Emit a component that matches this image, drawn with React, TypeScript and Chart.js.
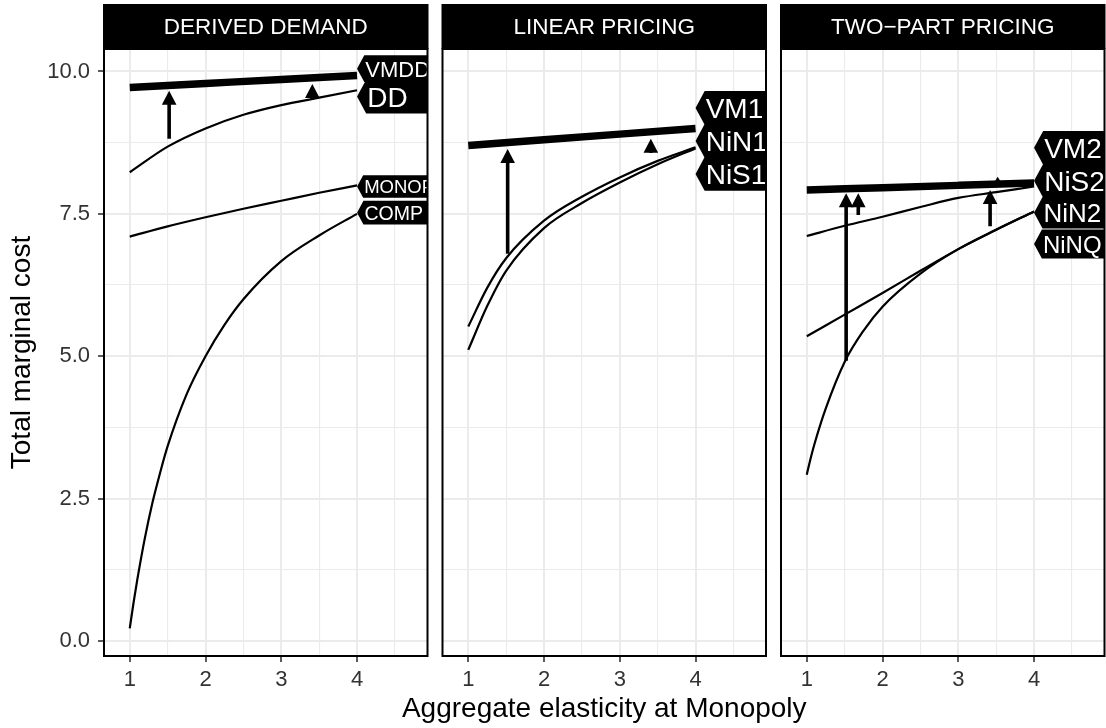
import React, { useEffect, useRef } from "react";
import { Chart, registerables } from "chart.js";

Chart.register(...registerables);

// ------------------------------------------------------------------ data
const facetTitles = ["DERIVED DEMAND", "LINEAR PRICING", "TWO\u2212PART PRICING"];
const xTitle = "Aggregate elasticity at Monopoly";
const yTitle = "Total marginal cost";
const xTickValues = [1, 2, 3, 4];
const xTickLabels = ["1", "2", "3", "4"];
const yTickValues = [0, 2.5, 5, 7.5, 10];
const yTickLabels = ["0.0", "2.5", "5.0", "7.5", "10.0"];

const xBase = [1, 1.5, 2, 2.5, 3, 3.5, 4];
const xStraight = [1, 2, 3, 4];

// DERIVED DEMAND
const vmddY = [9.72, 9.79, 9.86, 9.93];
const ddY = [8.23, 8.68, 9.0, 9.24, 9.41, 9.54, 9.67];
const monopY = [7.1, 7.28, 7.44, 7.59, 7.73, 7.87, 8.0];
const compX = [1, 1.05, 1.1, 1.2, 1.3, 1.4, 1.5, 1.75, 2, 2.25, 2.5, 3, 3.5, 4];
const compY = [0.22, 0.67, 1.08, 1.81, 2.43, 2.95, 3.42, 4.33, 5.0, 5.55, 6.0, 6.67, 7.12, 7.5];

// LINEAR PRICING
const vm1Y = [8.7, 8.8, 8.9, 9.0];
const linX = [1, 1.25, 1.5, 2, 2.5, 3, 3.5, 4];
const nin1Y = [5.52, 6.2, 6.72, 7.38, 7.8, 8.14, 8.43, 8.67];
const nis1Y = [5.11, 5.88, 6.5, 7.25, 7.69, 8.05, 8.37, 8.65];

// TWO-PART PRICING
const vm2Y = [7.92, 7.96, 8.0, 8.04];
const nis2Y = [7.11, 7.29, 7.45, 7.62, 7.78, 7.88, 7.98];
const nin2Y = [5.35, 5.73, 6.11, 6.5, 6.88, 7.22, 7.54];
const ninqX = [1, 1.05, 1.1, 1.25, 1.5, 1.75, 2, 2.5, 3, 3.5, 4];
const ninqY = [2.92, 3.2, 3.45, 4.08, 4.9, 5.45, 5.87, 6.45, 6.88, 7.22, 7.54];

// arrows (x, from, to) in data units
const arrowsDDx = [1.52, 3.41];
const arrowsDDfrom = [8.82, 9.5];
const arrowsDDto = [9.66, 9.78];
const arrowsLPx = [1.52, 3.41];
const arrowsLPfrom = [6.8, 8.57];
const arrowsLPto = [8.64, 8.82];
const arrowsTPx = [1.52, 1.68, 3.42, 3.52];
const arrowsTPfrom = [4.92, 7.48, 7.28, 8.03];
const arrowsTPto = [7.86, 7.86, 7.92, 8.15];

// direct labels: text and vertical position (data units), anchored at x = 4
const labelAnchorX = 4;
const labelsDD = ["VMDD", "DD", "MONOP", "COMP"];
const labelsDDy = [10.05, 9.56, 7.98, 7.52];
const labelsLP = ["VM1", "NiN1", "NiS1"];
const labelsLPy = [9.36, 8.78, 8.2];
const labelsTP = ["VM2", "NiS2", "NiN2", "NiNQ"];
const labelsTPy = [8.66, 8.08, 7.52, 6.97];

// ------------------------------------------------------------------ layout / style
const W = 1106;
const H = 728;
const FONT = "'Liberation Sans', Arial, Helvetica, sans-serif";
const X_MIN = 0.66;
const X_MAX = 4.93;
const Y_MIN = -0.265;
const Y_MAX = 10.395;
const PANEL_LEFT = [104, 442.5, 781];
const PANEL_W = 323.5;
const PANEL_TOP = 49;
const STRIP_TOP = 4;
const X_AXIS_H = 72;
const X_TITLE_Y = 709;
const TICK_FONT = 22;
const TITLE_FONT = 28;
const STRIP_FONT = 22.5;
const LABEL_SIZES = [
  [22, 28, 18.5, 19.5],
  [28, 28, 28],
  [28, 28, 26, 24],
];

type Series = { name: string; x: number[]; y: number[] };
type Panel = {
  title: string;
  series: Series[];
  ax: number[];
  afrom: number[];
  ato: number[];
  labels: string[];
  labelsY: number[];
};

const PANELS: Panel[] = [
  {
    title: facetTitles[0],
    series: [
      { name: "VMDD", x: xStraight, y: vmddY },
      { name: "DD", x: xBase, y: ddY },
      { name: "MONOP", x: xBase, y: monopY },
      { name: "COMP", x: compX, y: compY },
    ],
    ax: arrowsDDx,
    afrom: arrowsDDfrom,
    ato: arrowsDDto,
    labels: labelsDD,
    labelsY: labelsDDy,
  },
  {
    title: facetTitles[1],
    series: [
      { name: "VM1", x: xStraight, y: vm1Y },
      { name: "NiN1", x: linX, y: nin1Y },
      { name: "NiS1", x: linX, y: nis1Y },
    ],
    ax: arrowsLPx,
    afrom: arrowsLPfrom,
    ato: arrowsLPto,
    labels: labelsLP,
    labelsY: labelsLPy,
  },
  {
    title: facetTitles[2],
    series: [
      { name: "VM2", x: xStraight, y: vm2Y },
      { name: "NiS2", x: xBase, y: nis2Y },
      { name: "NiN2", x: xBase, y: nin2Y },
      { name: "NiNQ", x: ninqX, y: ninqY },
    ],
    ax: arrowsTPx,
    afrom: arrowsTPfrom,
    ato: arrowsTPto,
    labels: labelsTP,
    labelsY: labelsTPy,
  },
];

const near = (a: number, b: number) => Math.abs(a - b) < 1e-6;
const isMajorX = (v: number) => xTickValues.some((t) => near(t, v));
const isMajorY = (v: number) => yTickValues.some((t) => near(t, v));

function drawArrow(ctx: CanvasRenderingContext2D, x: number, y0: number, y1: number) {
  const len = Math.abs(y1 - y0);
  const dir = y1 < y0 ? -1 : 1;
  const headL = Math.min(14, len);
  const headW = 5.8 * (headL / 14) + 1.5;
  ctx.lineWidth = 3.6;
  ctx.lineCap = "butt";
  if (len > headL) {
    ctx.beginPath();
    ctx.moveTo(x, y0);
    ctx.lineTo(x, y1 - dir * headL * 0.7);
    ctx.stroke();
  }
  ctx.beginPath();
  ctx.moveTo(x, y1);
  ctx.lineTo(x - headW, y1 - dir * headL);
  ctx.lineTo(x + headW, y1 - dir * headL);
  ctx.closePath();
  ctx.fill();
}

function facetPlugin(p: Panel, idx: number) {
  return {
    id: "facet" + idx,
    afterDatasetsDraw(chart: any) {
      const ctx: CanvasRenderingContext2D = chart.ctx;
      const { left, right, top, bottom } = chart.chartArea;
      const xs = chart.scales.x;
      const ys = chart.scales.y;
      ctx.save();
      ctx.beginPath();
      ctx.rect(left, top, right - left, bottom - top);
      ctx.clip();
      ctx.fillStyle = "#000";
      ctx.strokeStyle = "#000";
      p.ax.forEach((xv, k) => {
        drawArrow(ctx, xs.getPixelForValue(xv), ys.getPixelForValue(p.afrom[k]), ys.getPixelForValue(p.ato[k]));
      });
      p.labels.forEach((t, k) => {
        const size = LABEL_SIZES[idx][k];
        const tip = xs.getPixelForValue(labelAnchorX);
        const cy = ys.getPixelForValue(p.labelsY[k]);
        const h = size * 1.17 + 1;
        const tw = h * 0.27;
        ctx.fillStyle = "#000";
        ctx.beginPath();
        ctx.moveTo(tip, cy);
        ctx.lineTo(tip + tw, cy - h / 2);
        ctx.lineTo(right + 20, cy - h / 2);
        ctx.lineTo(right + 20, cy + h / 2);
        ctx.lineTo(tip + tw, cy + h / 2);
        ctx.closePath();
        ctx.fill();
        ctx.fillStyle = "#fff";
        ctx.font = `${size}px ${FONT}`;
        ctx.textAlign = "left";
        ctx.textBaseline = "alphabetic";
        ctx.fillText(t, tip + tw + 1, cy + (size * 0.716) / 2);
      });
      ctx.restore();
      ctx.save();
      ctx.lineWidth = 2;
      ctx.strokeStyle = "#000";
      ctx.strokeRect(left, top, right - left, bottom - top);
      ctx.restore();
    },
    afterDraw(chart: any) {
      const ctx: CanvasRenderingContext2D = chart.ctx;
      const { left, right, top } = chart.chartArea;
      ctx.save();
      ctx.fillStyle = "#000";
      ctx.fillRect(left - 1, STRIP_TOP, right - left + 2, top - STRIP_TOP);
      ctx.fillStyle = "#fff";
      ctx.font = `${STRIP_FONT}px ${FONT}`;
      ctx.textAlign = "center";
      ctx.textBaseline = "middle";
      ctx.fillText(p.title, (left + right) / 2, (STRIP_TOP + top) / 2 + 1);
      if (idx === 1) {
        // shared x-axis title, centred under the middle facet (= centre of all facets)
        ctx.fillStyle = "#000";
        ctx.font = `${TITLE_FONT}px ${FONT}`;
        ctx.fillText(xTitle, (left + right) / 2, X_TITLE_Y);
      }
      ctx.restore();
    },
  };
}

function makeConfig(p: Panel, i: number): any {
  const padL = i === 0 ? 0 : PANEL_LEFT[i];
  const padR = W - (PANEL_LEFT[i] + PANEL_W);
  const grid = (major: (v: number) => boolean, ticks: boolean) => ({
    color: "#EBEBEB",
    lineWidth: (c: any) => (c.tick && major(c.tick.value) ? 2 : 1.1),
    drawTicks: ticks,
    tickLength: 6,
    tickWidth: 1.6,
    tickColor: (c: any) => (c.tick && major(c.tick.value) ? "#333" : "rgba(0,0,0,0)"),
  });
  return {
    type: "line",
    data: {
      datasets: p.series.map((s) => ({
        label: s.name,
        data: s.x.map((xv, k) => ({ x: xv, y: s.y[k] })),
        borderColor: "#000",
        borderWidth: s.name.startsWith("VM") ? 7.5 : 2.2,
        borderCapStyle: "butt",
        pointRadius: 0,
        cubicInterpolationMode: "monotone",
        fill: false,
      })),
    },
    options: {
      animation: false,
      responsive: false,
      events: [],
      layout: { padding: { top: PANEL_TOP, bottom: 0, left: padL, right: padR } },
      plugins: { legend: { display: false }, tooltip: { enabled: false }, title: { display: false } },
      scales: {
        x: {
          type: "linear",
          min: X_MIN,
          max: X_MAX,
          border: { display: false },
          grid: grid(isMajorX, true),
          ticks: {
            stepSize: 0.5,
            includeBounds: false,
            autoSkip: false,
            maxRotation: 0,
            padding: 5,
            color: "#333",
            font: { size: TICK_FONT, family: FONT },
            callback: (v: number) => {
              const k = xTickValues.findIndex((t) => near(t, v));
              return k >= 0 ? xTickLabels[k] : "";
            },
          },
          title: { display: false },
          afterFit: (s: any) => {
            s.height = X_AXIS_H;
          },
        },
        y: {
          type: "linear",
          min: Y_MIN,
          max: Y_MAX,
          border: { display: false },
          grid: grid(isMajorY, i === 0),
          ticks: {
            display: i === 0,
            stepSize: 1.25,
            includeBounds: false,
            autoSkip: false,
            padding: 8,
            color: "#333",
            font: { size: TICK_FONT, family: FONT },
            callback: (v: number) => {
              const k = yTickValues.findIndex((t) => near(t, v));
              return k >= 0 ? yTickLabels[k] : "";
            },
          },
          title: {
            display: i === 0,
            text: yTitle,
            color: "#000",
            font: { size: TITLE_FONT, family: FONT },
            padding: { top: 5, bottom: 0 },
          },
          afterFit: (s: any) => {
            s.width = i === 0 ? PANEL_LEFT[0] : 0;
          },
        },
      },
    },
    plugins: [facetPlugin(p, i)],
  };
}

export default function App() {
  const refs = useRef<(HTMLCanvasElement | null)[]>([]);
  useEffect(() => {
    const charts = PANELS.map((p, i) => new Chart(refs.current[i] as HTMLCanvasElement, makeConfig(p, i)));
    return () => charts.forEach((c) => c.destroy());
  }, []);
  return (
    <div style={{ position: "fixed", left: 0, top: 0, width: W, height: H, background: "#fff" }}>
      {PANELS.map((_, i) => (
        <canvas
          key={i}
          ref={(el) => {
            refs.current[i] = el;
          }}
          width={W}
          height={H}
          style={{ position: "absolute", left: 0, top: 0, width: W, height: H }}
        />
      ))}
    </div>
  );
}
